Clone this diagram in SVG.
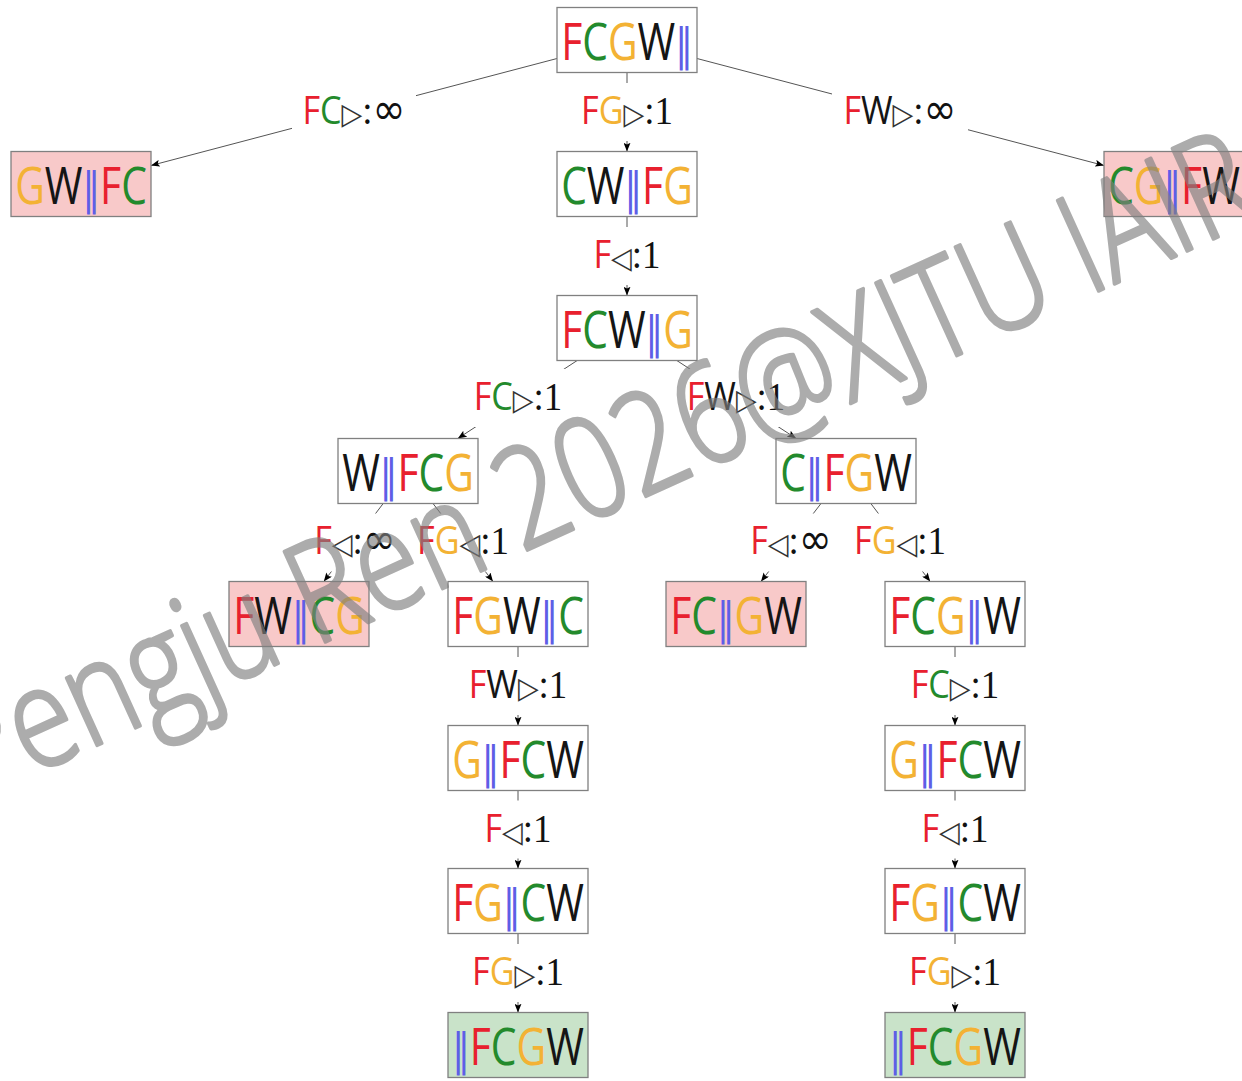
<svg xmlns="http://www.w3.org/2000/svg" width="1242" height="1081" viewBox="0 0 1242 1081">
<defs>
<style>
.node rect{fill:#ffffff;stroke:#808080;stroke-width:1.3}
.bad rect{fill:#f8c9c9}
.goal rect{fill:#c9e3c9}
.nt{font-family:"Open Sans","Noto Sans",sans-serif;font-size:51px;text-anchor:middle}
.lt{font-family:"Open Sans","Noto Sans",sans-serif;font-size:38px;text-anchor:middle}
.f{fill:#e8202e}
.c{fill:#238a2c}
.g{fill:#f3b234}
.w{fill:#151515}
.b{fill:#5e5ee6;font-family:"DejaVu Sans",sans-serif;font-size:44px}
.tri{font-family:"DejaVu Sans",sans-serif;font-size:30px;fill:#333333}
.num{font-family:"Liberation Serif",serif;font-size:41px;fill:#111111}
.inf{font-family:"DejaVu Sans",sans-serif;font-size:44px;fill:#111111}
.edge{stroke:#555555;stroke-width:1;fill:none;marker-end:url(#ah)}
.lbg{fill:#ffffff}
.wm{font-family:"Open Sans","Noto Sans",sans-serif;font-weight:300;font-size:114px;fill:#808080;stroke:#808080;stroke-width:3;stroke-linejoin:round;opacity:0.65}
</style>
<marker id="ah" viewBox="0 0 10 8" refX="10" refY="4" markerWidth="9" markerHeight="7" orient="auto" markerUnits="userSpaceOnUse">
<path d="M0,0 L10,4 L0,8 L2,4 z" fill="#000000"/>
</marker>
</defs>
<rect width="1242" height="1081" fill="#ffffff"/>

<g id="connectors">
<line class="edge" x1="557" y1="58.5" x2="151" y2="165.5"/>
<line class="edge" x1="627" y1="72.5" x2="627" y2="151.5"/>
<line class="edge" x1="697" y1="58.5" x2="1104" y2="165.5"/>
<line class="edge" x1="627" y1="216.5" x2="627" y2="295.5"/>
<line class="edge" x1="577.2" y1="360.5" x2="457.8" y2="438.5"/>
<line class="edge" x1="676.8" y1="360.5" x2="796.2" y2="438.5"/>
<line class="edge" x1="383.2" y1="503.5" x2="323.8" y2="581.5"/>
<line class="edge" x1="433" y1="503.5" x2="493" y2="581.5"/>
<line class="edge" x1="821" y1="503.5" x2="761" y2="581.5"/>
<line class="edge" x1="870.8" y1="503.5" x2="930.2" y2="581.5"/>
<line class="edge" x1="518" y1="646.5" x2="518" y2="725.5"/>
<line class="edge" x1="518" y1="790.5" x2="518" y2="868.5"/>
<line class="edge" x1="518" y1="933.5" x2="518" y2="1012.5"/>
<line class="edge" x1="955" y1="646.5" x2="955" y2="725.5"/>
<line class="edge" x1="955" y1="790.5" x2="955" y2="868.5"/>
<line class="edge" x1="955" y1="933.5" x2="955" y2="1012.5"/>

<g id="labels">
<rect class="lbg" x="292" y="83" width="124" height="58"/>
<text class="lt" transform="translate(354,124) scale(0.9,1)"><tspan class="f">F</tspan><tspan class="c">C</tspan><tspan class="tri">▷</tspan><tspan class="num">:</tspan><tspan class="inf">∞</tspan></text>
<rect class="lbg" x="575" y="83" width="104" height="58"/>
<text class="lt" transform="translate(627,124) scale(0.9,1)"><tspan class="f">F</tspan><tspan class="g">G</tspan><tspan class="tri">▷</tspan><tspan class="num">:1</tspan></text>
<rect class="lbg" x="832" y="83" width="136" height="58"/>
<text class="lt" transform="translate(900,124) scale(0.9,1)"><tspan class="f">F</tspan><tspan class="w">W</tspan><tspan class="tri">▷</tspan><tspan class="num">:</tspan><tspan class="inf">∞</tspan></text>
<rect class="lbg" x="589" y="227" width="76" height="58"/>
<text class="lt" transform="translate(627,268) scale(0.9,1)"><tspan class="f">F</tspan><tspan class="tri">◁</tspan><tspan class="num">:1</tspan></text>
<rect class="lbg" x="466" y="369" width="104" height="58"/>
<text class="lt" transform="translate(518,410) scale(0.9,1)"><tspan class="f">F</tspan><tspan class="c">C</tspan><tspan class="tri">▷</tspan><tspan class="num">:1</tspan></text>
<rect class="lbg" x="680" y="369" width="112" height="58"/>
<text class="lt" transform="translate(736,410) scale(0.9,1)"><tspan class="f">F</tspan><tspan class="w">W</tspan><tspan class="tri">▷</tspan><tspan class="num">:1</tspan></text>
<rect class="lbg" x="307" y="513.5" width="96" height="58"/>
<text class="lt" transform="translate(355,554) scale(0.9,1)"><tspan class="f">F</tspan><tspan class="tri">◁</tspan><tspan class="num">:</tspan><tspan class="inf">∞</tspan></text>
<rect class="lbg" x="411" y="513.5" width="104" height="58"/>
<text class="lt" transform="translate(463,554) scale(0.9,1)"><tspan class="f">F</tspan><tspan class="g">G</tspan><tspan class="tri">◁</tspan><tspan class="num">:1</tspan></text>
<rect class="lbg" x="743" y="513.5" width="96" height="58"/>
<text class="lt" transform="translate(791,554) scale(0.9,1)"><tspan class="f">F</tspan><tspan class="tri">◁</tspan><tspan class="num">:</tspan><tspan class="inf">∞</tspan></text>
<rect class="lbg" x="848" y="513.5" width="104" height="58"/>
<text class="lt" transform="translate(900,554) scale(0.9,1)"><tspan class="f">F</tspan><tspan class="g">G</tspan><tspan class="tri">◁</tspan><tspan class="num">:1</tspan></text>
<rect class="lbg" x="462" y="657" width="112" height="58"/>
<text class="lt" transform="translate(518,698) scale(0.9,1)"><tspan class="f">F</tspan><tspan class="w">W</tspan><tspan class="tri">▷</tspan><tspan class="num">:1</tspan></text>
<rect class="lbg" x="480" y="800.5" width="76" height="58"/>
<text class="lt" transform="translate(518,841.5) scale(0.9,1)"><tspan class="f">F</tspan><tspan class="tri">◁</tspan><tspan class="num">:1</tspan></text>
<rect class="lbg" x="466" y="944" width="104" height="58"/>
<text class="lt" transform="translate(518,985) scale(0.9,1)"><tspan class="f">F</tspan><tspan class="g">G</tspan><tspan class="tri">▷</tspan><tspan class="num">:1</tspan></text>
<rect class="lbg" x="903" y="657" width="104" height="58"/>
<text class="lt" transform="translate(955,698) scale(0.9,1)"><tspan class="f">F</tspan><tspan class="c">C</tspan><tspan class="tri">▷</tspan><tspan class="num">:1</tspan></text>
<rect class="lbg" x="917" y="800.5" width="76" height="58"/>
<text class="lt" transform="translate(955,841.5) scale(0.9,1)"><tspan class="f">F</tspan><tspan class="tri">◁</tspan><tspan class="num">:1</tspan></text>
<rect class="lbg" x="903" y="944" width="104" height="58"/>
<text class="lt" transform="translate(955,985) scale(0.9,1)"><tspan class="f">F</tspan><tspan class="g">G</tspan><tspan class="tri">▷</tspan><tspan class="num">:1</tspan></text>
</g>
</g>

<g id="n_FCGW" class="node"><rect x="557" y="7.5" width="140" height="65"/>
<text class="nt" transform="translate(627,60) scale(0.8,1)"><tspan class="f">F</tspan><tspan class="c">C</tspan><tspan class="g">G</tspan><tspan class="w">W</tspan><tspan class="b">‖</tspan></text></g>
<g id="n_GW_FC" class="node bad"><rect x="11" y="151.5" width="140" height="65"/>
<text class="nt" transform="translate(81,204) scale(0.8,1)"><tspan class="g">G</tspan><tspan class="w">W</tspan><tspan class="b">‖</tspan><tspan class="f">F</tspan><tspan class="c">C</tspan></text></g>
<g id="n_CW_FG" class="node"><rect x="557" y="151.5" width="140" height="65"/>
<text class="nt" transform="translate(627,204) scale(0.8,1)"><tspan class="c">C</tspan><tspan class="w">W</tspan><tspan class="b">‖</tspan><tspan class="f">F</tspan><tspan class="g">G</tspan></text></g>
<g id="n_CG_FW" class="node bad"><rect x="1104" y="151.5" width="140" height="65"/>
<text class="nt" transform="translate(1174,204) scale(0.8,1)"><tspan class="c">C</tspan><tspan class="g">G</tspan><tspan class="b">‖</tspan><tspan class="f">F</tspan><tspan class="w">W</tspan></text></g>
<g id="n_FCW_G" class="node"><rect x="557" y="295.5" width="140" height="65"/>
<text class="nt" transform="translate(627,348) scale(0.8,1)"><tspan class="f">F</tspan><tspan class="c">C</tspan><tspan class="w">W</tspan><tspan class="b">‖</tspan><tspan class="g">G</tspan></text></g>
<g id="n_W_FCG" class="node"><rect x="338" y="438.5" width="140" height="65"/>
<text class="nt" transform="translate(408,491) scale(0.8,1)"><tspan class="w">W</tspan><tspan class="b">‖</tspan><tspan class="f">F</tspan><tspan class="c">C</tspan><tspan class="g">G</tspan></text></g>
<g id="n_C_FGW" class="node"><rect x="776" y="438.5" width="140" height="65"/>
<text class="nt" transform="translate(846,491) scale(0.8,1)"><tspan class="c">C</tspan><tspan class="b">‖</tspan><tspan class="f">F</tspan><tspan class="g">G</tspan><tspan class="w">W</tspan></text></g>
<g id="n_FW_CG" class="node bad"><rect x="229" y="581.5" width="140" height="65"/>
<text class="nt" transform="translate(299,634) scale(0.8,1)"><tspan class="f">F</tspan><tspan class="w">W</tspan><tspan class="b">‖</tspan><tspan class="c">C</tspan><tspan class="g">G</tspan></text></g>
<g id="n_FGW_C" class="node"><rect x="448" y="581.5" width="140" height="65"/>
<text class="nt" transform="translate(518,634) scale(0.8,1)"><tspan class="f">F</tspan><tspan class="g">G</tspan><tspan class="w">W</tspan><tspan class="b">‖</tspan><tspan class="c">C</tspan></text></g>
<g id="n_FC_GW" class="node bad"><rect x="666" y="581.5" width="140" height="65"/>
<text class="nt" transform="translate(736,634) scale(0.8,1)"><tspan class="f">F</tspan><tspan class="c">C</tspan><tspan class="b">‖</tspan><tspan class="g">G</tspan><tspan class="w">W</tspan></text></g>
<g id="n_FCG_W" class="node"><rect x="885" y="581.5" width="140" height="65"/>
<text class="nt" transform="translate(955,634) scale(0.8,1)"><tspan class="f">F</tspan><tspan class="c">C</tspan><tspan class="g">G</tspan><tspan class="b">‖</tspan><tspan class="w">W</tspan></text></g>
<g id="n_G_FCW_L" class="node"><rect x="448" y="725.5" width="140" height="65"/>
<text class="nt" transform="translate(518,778) scale(0.8,1)"><tspan class="g">G</tspan><tspan class="b">‖</tspan><tspan class="f">F</tspan><tspan class="c">C</tspan><tspan class="w">W</tspan></text></g>
<g id="n_G_FCW_R" class="node"><rect x="885" y="725.5" width="140" height="65"/>
<text class="nt" transform="translate(955,778) scale(0.8,1)"><tspan class="g">G</tspan><tspan class="b">‖</tspan><tspan class="f">F</tspan><tspan class="c">C</tspan><tspan class="w">W</tspan></text></g>
<g id="n_FG_CW_L" class="node"><rect x="448" y="868.5" width="140" height="65"/>
<text class="nt" transform="translate(518,921) scale(0.8,1)"><tspan class="f">F</tspan><tspan class="g">G</tspan><tspan class="b">‖</tspan><tspan class="c">C</tspan><tspan class="w">W</tspan></text></g>
<g id="n_FG_CW_R" class="node"><rect x="885" y="868.5" width="140" height="65"/>
<text class="nt" transform="translate(955,921) scale(0.8,1)"><tspan class="f">F</tspan><tspan class="g">G</tspan><tspan class="b">‖</tspan><tspan class="c">C</tspan><tspan class="w">W</tspan></text></g>
<g id="n_goal_L" class="node goal"><rect x="448" y="1012.5" width="140" height="65"/>
<text class="nt" transform="translate(518,1065) scale(0.8,1)"><tspan class="b">‖</tspan><tspan class="f">F</tspan><tspan class="c">C</tspan><tspan class="g">G</tspan><tspan class="w">W</tspan></text></g>
<g id="n_goal_R" class="node goal"><rect x="885" y="1012.5" width="140" height="65"/>
<text class="nt" transform="translate(955,1065) scale(0.8,1)"><tspan class="b">‖</tspan><tspan class="f">F</tspan><tspan class="c">C</tspan><tspan class="g">G</tspan><tspan class="w">W</tspan></text></g>

<text class="wm" transform="translate(-30,803) rotate(-24.4) scale(1,1.22)">Pengju Ren 2026@XJTU IAIR</text>
</svg>
